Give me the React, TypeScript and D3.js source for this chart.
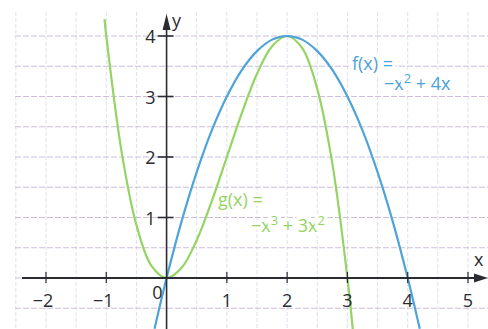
import React, { useEffect, useRef } from 'react';
import * as d3 from 'd3';

// tick values on the axes
const xTicks = [-2, -1, 0, 1, 2, 3, 4, 5];
const yTicks = [1, 2, 3, 4];

// f(x) = -x^2 + 4x
const fX = [-0.2, 0, 0.25, 0.5, 0.75, 1, 1.25, 1.5, 1.75, 2, 2.25, 2.5, 2.75, 3, 3.25, 3.5, 3.75, 4, 4.2];
const fY = [-0.84, 0, 0.94, 1.75, 2.44, 3, 3.44, 3.75, 3.94, 4, 3.94, 3.75, 3.44, 3, 2.44, 1.75, 0.94, 0, -0.84];

// g(x) = -x^3 + 3x^2
const gX = [-1.03, -1, -0.75, -0.5, -0.25, 0, 0.25, 0.5, 0.75, 1, 1.25, 1.5, 1.75, 2, 2.25, 2.5, 2.75, 3, 3.09];
const gY = [4.28, 4, 2.11, 0.875, 0.2, 0, 0.17, 0.625, 1.27, 2, 2.73, 3.375, 3.83, 4, 3.8, 3.125, 1.89, 0, -0.86];

const W = 488;
const H = 329;
const BLUE = '#4ea3d8';
const GREEN = '#93d463';
const INK = '#2b2b33';

const App = () => {
    const svgRef = useRef(null);

    useEffect(() => {
        const svg = d3.select(svgRef.current);
        svg.selectAll('*').remove();

        const x = d3.scaleLinear().domain([-2, 5]).range([46, 468]);
        const y = d3.scaleLinear().domain([0, 4]).range([278, 36]);
        const font = '"Open Sans", "Noto Sans", sans-serif';

        svg.append('rect').attr('width', W).attr('height', H).attr('fill', '#fff');

        //grid every half unit
        const grid = svg.append('g');
        const vLines = d3.range(-5, 11).map(d => d / 2).filter(d => x(d) > 10 && x(d) < W);
        grid.selectAll('.v')
            .data(vLines)
            .enter().append('line')
            .attr('x1', d => x(d)).attr('x2', d => x(d))
            .attr('y1', 12).attr('y2', H)
            .attr('stroke', '#dde1ea')
            .attr('stroke-width', 1)
            .attr('stroke-dasharray', '4 2');
        const hLines = d3.range(-1, 9).map(d => d / 2).filter(d => y(d) > 30 && y(d) < H);
        grid.selectAll('.h')
            .data(hLines)
            .enter().append('line')
            .attr('x1', 15).attr('x2', W)
            .attr('y1', d => y(d)).attr('y2', d => y(d))
            .attr('stroke', '#cdbfdc')
            .attr('stroke-width', 1.1)
            .attr('stroke-dasharray', '6 2');

        //function labels with white halo
        const label = (color, lines) => {
            lines.forEach(l => {
                const t = svg.append('text')
                    .attr('x', l.x)
                    .attr('y', l.y)
                    .attr('font-family', font)
                    .attr('font-size', 18)
                    .attr('fill', color)
                    .attr('stroke', '#fff')
                    .attr('stroke-width', 7)
                    .attr('paint-order', 'stroke')
                    .attr('stroke-linejoin', 'round');
                l.parts.forEach(p => {
                    const s = t.append('tspan').text(p.t);
                    if (p.sup) s.attr('font-size', 13).attr('dy', -7);
                    if (p.down) s.attr('dy', 7);
                });
            });
        };
        label(BLUE, [
            { x: 352, y: 70, parts: [{ t: 'f(x) =' }] },
            { x: 384, y: 90, parts: [{ t: '−x' }, { t: '2', sup: true }, { t: ' + 4x', down: true }] }
        ]);
        label(GREEN, [
            { x: 218, y: 206, parts: [{ t: 'g(x) =' }] },
            { x: 251, y: 232, parts: [{ t: '−x' }, { t: '3', sup: true }, { t: ' + 3x', down: true }, { t: '2', sup: true }] }
        ]);

        //curves
        const fData = fX.map((d, i) => ({ x: d, y: fY[i] }));
        const gData = gX.map((d, i) => ({ x: d, y: gY[i] }));
        const line = d3.line()
            .x(d => x(d.x))
            .y(d => y(d.y))
            .curve(d3.curveCatmullRom);

        svg.append('path')
            .datum(gData)
            .attr('fill', 'none')
            .attr('stroke', GREEN)
            .attr('stroke-width', 2.2)
            .attr('d', line);
        svg.append('path')
            .datum(fData)
            .attr('fill', 'none')
            .attr('stroke', BLUE)
            .attr('stroke-width', 2.2)
            .attr('d', line);

        //axes
        const ax = svg.append('g').attr('stroke', INK);
        ax.append('line')
            .attr('x1', 22).attr('x2', 480)
            .attr('y1', y(0)).attr('y2', y(0))
            .attr('stroke-width', 2);
        ax.append('line')
            .attr('x1', x(0)).attr('x2', x(0))
            .attr('y1', H).attr('y2', 24)
            .attr('stroke-width', 1.6);
        svg.append('path')
            .attr('d', `M${W},${y(0)} L${W - 14},${y(0) - 4.5} L${W - 14},${y(0) + 4.5} Z`)
            .attr('fill', INK);
        svg.append('path')
            .attr('d', `M${x(0)},14 L${x(0) - 4},30 L${x(0) + 4},30 Z`)
            .attr('fill', INK);

        ax.selectAll('.xt')
            .data(xTicks.filter(d => d !== 0))
            .enter().append('line')
            .attr('x1', d => x(d)).attr('x2', d => x(d))
            .attr('y1', y(0) - 6).attr('y2', y(0) + 5)
            .attr('stroke-width', 1.2);
        ax.selectAll('.yt')
            .data(yTicks)
            .enter().append('line')
            .attr('x1', x(0) - 9).attr('x2', x(0) + 7)
            .attr('y1', d => y(d)).attr('y2', d => y(d))
            .attr('stroke-width', 1.6);

        const txt = svg.append('g')
            .attr('font-family', font)
            .attr('font-size', 18)
            .attr('fill', INK);
        txt.selectAll('.xl')
            .data(xTicks.filter(d => d !== 0))
            .enter().append('text')
            .attr('x', d => x(d) - (d < 0 ? 3 : 0))
            .attr('y', y(0) + 29)
            .attr('text-anchor', 'middle')
            .text(d => (d < 0 ? '−' + Math.abs(d) : String(d)));
        txt.append('text')
            .attr('x', x(0) - 4)
            .attr('y', y(0) + 21)
            .attr('text-anchor', 'end')
            .text('0');
        txt.selectAll('.yl')
            .data(yTicks)
            .enter().append('text')
            .attr('x', x(0) - 11)
            .attr('y', d => y(d) + 7)
            .attr('text-anchor', 'end')
            .text(d => d);
        txt.append('text').attr('x', 172).attr('y', 27).text('y');
        txt.append('text').attr('x', 474).attr('y', 266).text('x');
    }, []);

    return (
        <svg
            ref={svgRef}
            width={W}
            height={H}
            style={{ position: 'absolute', left: 0, top: 0, display: 'block' }}
        ></svg>
    );
};

export default App;
